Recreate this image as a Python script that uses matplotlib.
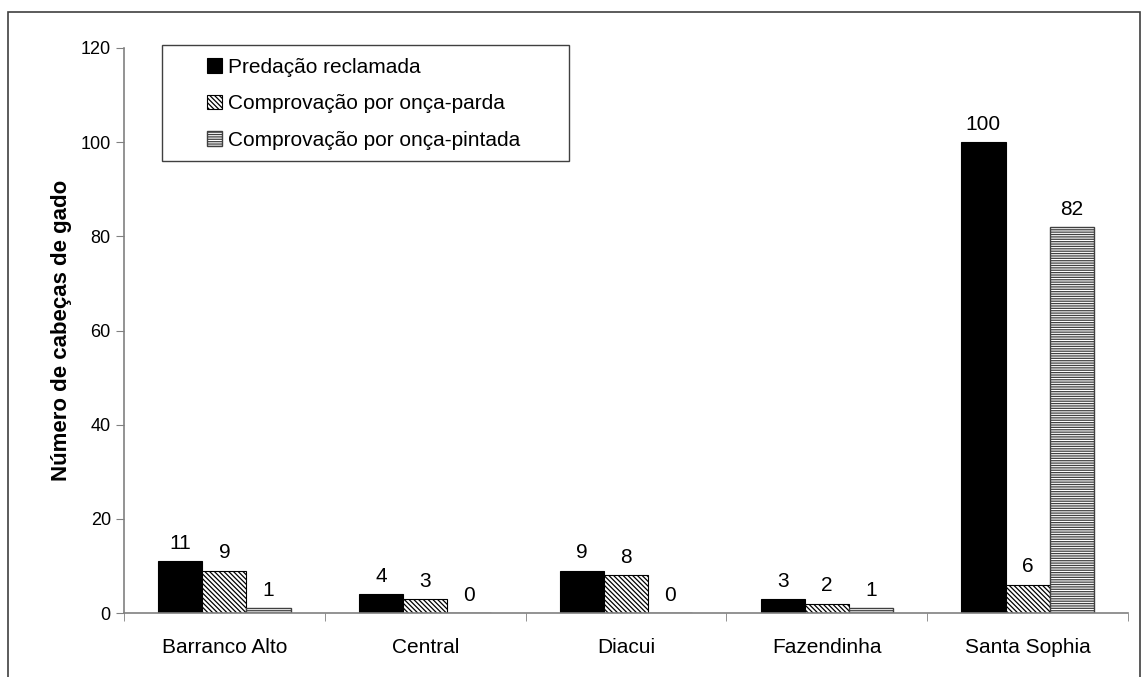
import numpy as np
import matplotlib.pyplot as plt
from matplotlib.patches import Rectangle

plt.rcParams['font.family'] = ['Liberation Sans', 'DejaVu Sans']
plt.rcParams['hatch.linewidth'] = 0.9

fazendas = ["Barranco Alto", "Central", "Diacui", "Fazendinha", "Santa Sophia"]
reclamada = [11, 4, 9, 3, 100]
parda = [9, 3, 8, 2, 6]
pintada = [1, 0, 0, 1, 82]
series_names = ["Predação reclamada", "Comprovação por onça-parda", "Comprovação por onça-pintada"]

fig = plt.figure(figsize=(11.48, 6.77), dpi=100)
ax = fig.add_axes([124 / 1148, 1 - 613 / 677, 1004 / 1148, 565 / 677])

x = np.arange(len(fazendas))
w = 0.22
b1 = ax.bar(x - w, reclamada, w, color="black", edgecolor="black", linewidth=0.8, label=series_names[0])
b2 = ax.bar(x, parda, w, color="white", edgecolor="black", hatch="\\" * 7, linewidth=0.8, label=series_names[1])
b3 = ax.bar(x + w, pintada, w, color="white", edgecolor="#404040", hatch="-" * 7, linewidth=1.0, label=series_names[2])

for bars in (b1, b2, b3):
    for r in bars:
        h = r.get_height()
        ax.annotate(f"{int(h)}", (r.get_x() + r.get_width() / 2, h), xytext=(0, 6),
                    textcoords="offset points", ha="center", va="bottom", fontsize=15)

ax.set_xlim(-0.5, len(fazendas) - 0.5)
ax.set_ylim(0, 120)
ax.set_yticks(range(0, 121, 20))
ax.set_xticks(x)
ax.set_xticklabels(fazendas, fontsize=15)
ax.tick_params(axis="x", length=0, pad=18)
ax.set_xticks(np.arange(-0.5, len(fazendas), 1), minor=True)
ax.tick_params(axis="x", which="minor", length=6, color="#808080", direction="out")
ax.tick_params(axis="y", labelsize=13, length=6, color="#808080")
for s in ("top", "right"):
    ax.spines[s].set_visible(False)
for s in ("left", "bottom"):
    ax.spines[s].set_color("#808080")
    ax.spines[s].set_linewidth(1.2)

ax.set_ylabel("Número de cabeças de gado", fontsize=16, fontweight="bold", labelpad=6)

# legend without its own frame; box drawn separately to get the wide left margin
leg = ax.legend(loc="upper left", bbox_to_anchor=(0.0827, 0.983), frameon=False,
                fontsize=15, handlelength=0.7, handleheight=0.7,
                handletextpad=0.3, labelspacing=0.85, borderpad=0, borderaxespad=0)
ax.add_patch(Rectangle((0.0378, 0.8), 0.4054, 0.2053, transform=ax.transAxes,
                       facecolor="white", edgecolor="#404040", linewidth=1.0,
                       zorder=4, clip_on=False))
leg.set_zorder(5)

fig.patches.append(Rectangle((8 / 1148, -0.01), 1132 / 1148, 1 - 12 / 677 + 0.01,
                             transform=fig.transFigure, fill=False, edgecolor="#404040",
                             linewidth=1.2))

fig.savefig("out.png", dpi=100)
